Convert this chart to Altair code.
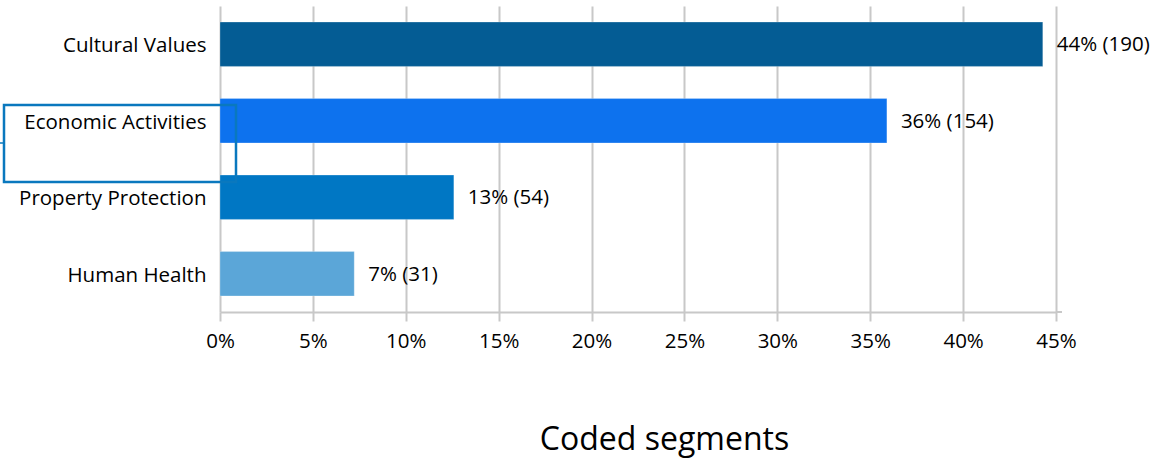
import altair as alt
import pandas as pd

categories = ["Cultural Values", "Economic Activities", "Property Protection", "Human Health"]
counts = [190, 154, 54, 31]
colors = ["#045C94", "#0D72EE", "#0077C4", "#5BA6D8"]
x_ticks = [0, 0.05, 0.10, 0.15, 0.20, 0.25, 0.30, 0.35, 0.40, 0.45]

total = sum(counts)
df = pd.DataFrame({
    "category": categories,
    "count": counts,
    "pct": [c / total for c in counts],
    "color": colors,
})
df["label"] = [f"{round(p*100)}% ({c})" for p, c in zip(df["pct"], df["count"])]

FONT = "Open Sans"

y_enc = alt.Y("category:N", sort=categories,
              scale=alt.Scale(paddingInner=0.42, paddingOuter=0.21),
              axis=alt.Axis(title=None, domain=False, ticks=False, labelFontSize=20.5,
                            labelFont=FONT, labelColor="#000000", labelPadding=14,
                            labelOffset=2, labelLimit=400, grid=False))

x_enc = alt.X("pct:Q", scale=alt.Scale(domain=[0, 0.45], nice=False),
              axis=alt.Axis(values=x_ticks, format=".0%", labelFontSize=20.5, labelFont=FONT,
                            labelColor="#000000", labelPadding=10, labelFlush=False,
                            gridColor="#C8C8C8", gridWidth=2,
                            domainColor="#C8C8C8", domainWidth=2,
                            tickColor="#C8C8C8", tickWidth=2, tickSize=9,
                            title="Coded segments", titleFont=FONT, titleFontSize=32,
                            titleFontWeight="normal", titleColor="#000000",
                            titleX=444, titleY=137, titleAlign="center",
                            titleBaseline="alphabetic"))

bars = alt.Chart(df).mark_bar(stroke="#FFFFFF", strokeOpacity=0.25, strokeWidth=1).encode(
    x=x_enc,
    y=y_enc,
    color=alt.Color("color:N", scale=None),
)

text = alt.Chart(df).mark_text(align="left", baseline="middle", dx=14, dy=1, fontSize=20.5,
                               font=FONT, color="#000000").encode(
    x="pct:Q",
    y=alt.Y("category:N", sort=categories),
    text="label:N",
)

box = alt.Chart(pd.DataFrame({"k": [0]})).mark_rect(
    fill=None, stroke="#0A78BE", strokeWidth=2.5, clip=False
).encode(
    x=alt.value(-216), x2=alt.value(16), y=alt.value(99), y2=alt.value(176)
)

stub = alt.Chart(pd.DataFrame({"k": [0]})).mark_rule(
    color="#0A78BE", strokeWidth=1.5, clip=False
).encode(
    x=alt.value(-220), x2=alt.value(-216), y=alt.value(137)
)

domain_ext = alt.Chart(pd.DataFrame({"k": [0]})).mark_rule(
    color="#C8C8C8", strokeWidth=2, clip=False
).encode(
    x=alt.value(836), x2=alt.value(842), y=alt.value(306)
)

chart = alt.layer(bars, text, box, stub, domain_ext).properties(
    width=836, height=306,
    padding={"left": 220, "top": 6, "right": 104, "bottom": 148},
    autosize=alt.AutoSizeParams(type="none"),
).configure_view(stroke=None)

chart.save("out.html", embed_options={"renderer": "svg", "actions": False})
